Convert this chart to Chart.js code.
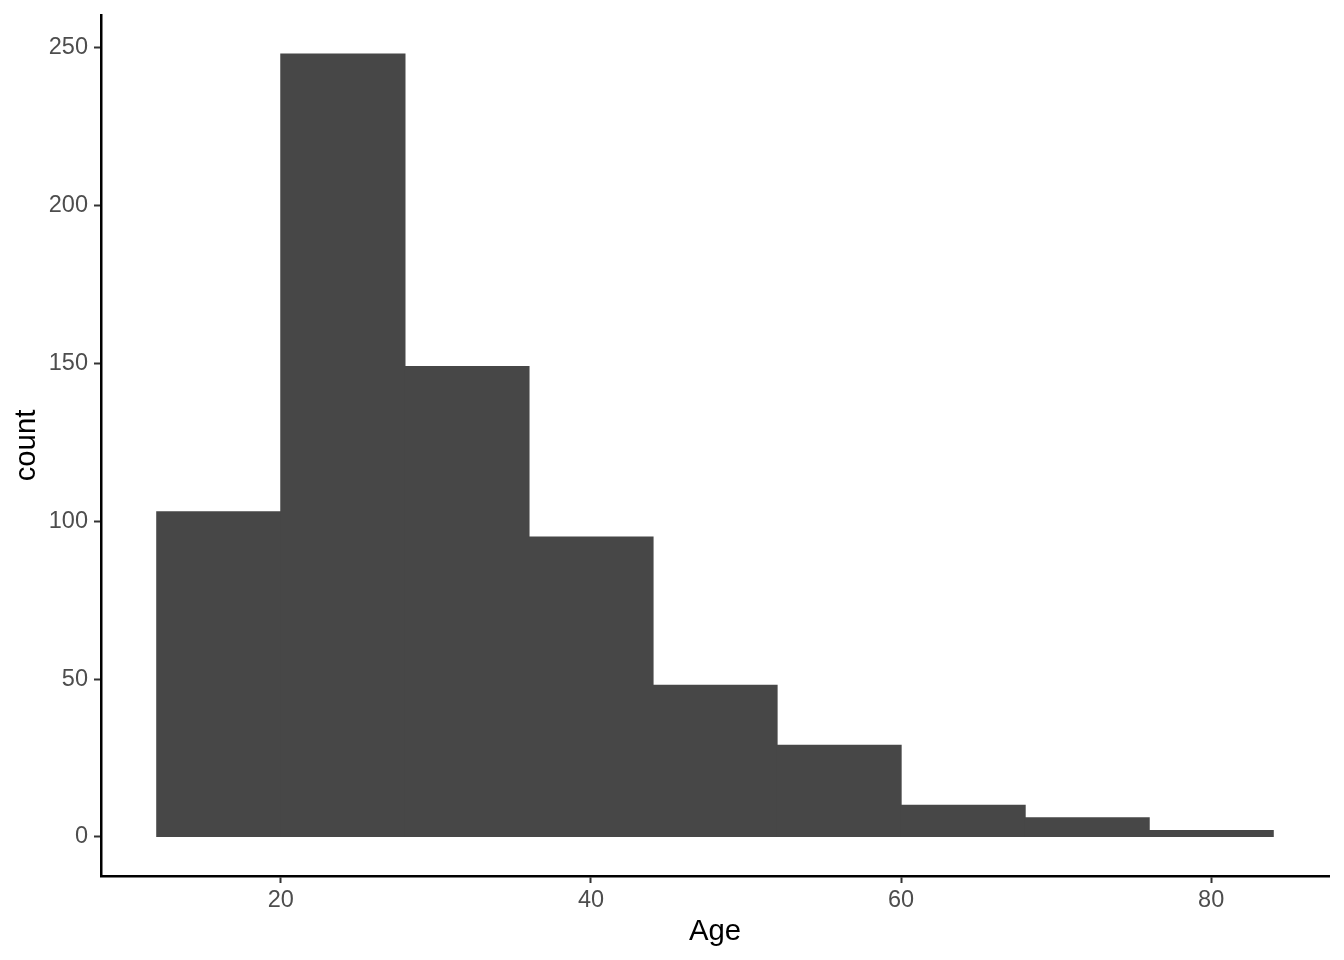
<!DOCTYPE html>
<html>
<head>
<meta charset="utf-8">
<script src="https://cdn.jsdelivr.net/npm/chart.js@4"></script>
<style>
  html, body { margin: 0; padding: 0; background: #fff; }
  canvas { display: block; }
</style>
</head>
<body>
<canvas id="chart" width="1344" height="960"></canvas>
<script>
// histogram of Age, binwidth 8
const binCenters = [16, 24, 32, 40, 48, 56, 64, 72, 80];
const counts = [103, 248, 149, 95, 48, 29, 10, 6, 2];
const xTicks = [20, 40, 60, 80];
const yTicks = [0, 50, 100, 150, 200, 250];

const BAR_COLOR = "#474747";
const TICK_COLOR = "#4D4D4D";
const FONT = "'Liberation Sans', Arial, Helvetica, sans-serif";

const points = binCenters.map((x, i) => ({ x, y: counts[i] }));

const axisCommon = {
    grid: { drawOnChartArea: false, drawTicks: true, offset: false, tickLength: 7, tickWidth: 2, color: "#333333" },
    border: { display: true, color: "#000000", width: 2.5 },
    ticks: { color: TICK_COLOR, font: { family: FONT, size: 23.5 }, padding: 6 },
};

new Chart(document.getElementById("chart"), {
    type: "bar",
    data: {
        datasets: [
            {
                data: points,
                backgroundColor: BAR_COLOR,
                borderWidth: 0,
                inflateAmount: 0.6,
                barPercentage: 1,
                categoryPercentage: 1,
            },
        ],
    },
    options: {
        responsive: false,
        animation: false,
        layout: { padding: { top: 15, right: 15, left: 0, bottom: 0 } },
        plugins: { legend: { display: false }, tooltip: { enabled: false } },
        scales: {
            x: {
                type: "linear",
                offset: false,
                min: 8.4,
                max: 87.6,
                ...axisCommon,
                ticks: { ...axisCommon.ticks, maxRotation: 0, padding: 3 },
                afterBuildTicks: (scale) => {
                    scale.ticks = xTicks.map((v) => ({ value: v }));
                },
                afterFit: (scale) => {
                    scale.height = 84;
                    scale.paddingLeft = 0;
                    scale.paddingRight = 0;
                },
                title: {
                    display: true,
                    text: "Age",
                    color: "#000000",
                    font: { family: FONT, size: 29.3 },
                    padding: { top: 0, bottom: 11 },
                },
            },
            y: {
                type: "linear",
                min: -12.4,
                max: 260.4,
                ...axisCommon,
                afterBuildTicks: (scale) => {
                    scale.ticks = yTicks.map((v) => ({ value: v }));
                },
                afterFit: (scale) => {
                    scale.width = 101;
                    scale.paddingTop = 0;
                    scale.paddingBottom = 0;
                },
                title: {
                    display: true,
                    text: "count",
                    color: "#000000",
                    font: { family: FONT, size: 29.3 },
                    padding: { top: 9, bottom: 0 },
                },
            },
        },
    },
});
</script>
</body>
</html>
